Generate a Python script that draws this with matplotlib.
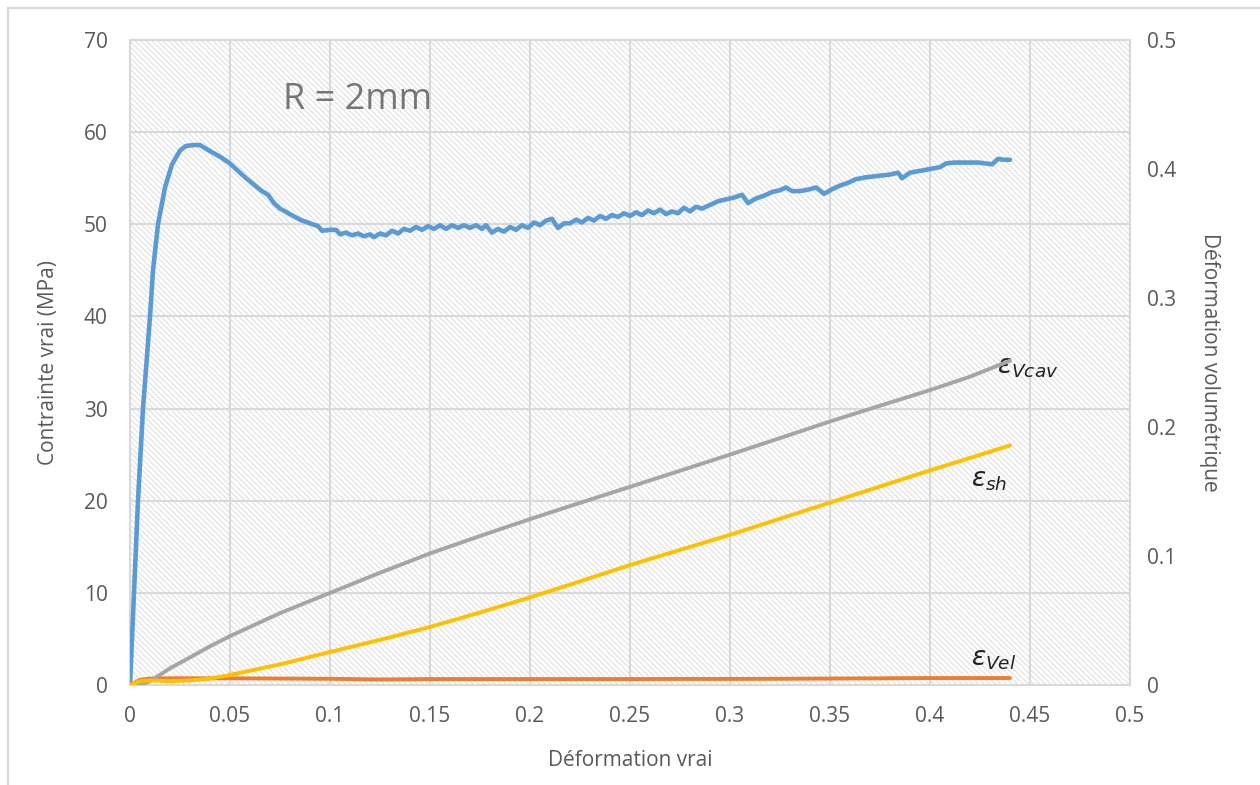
import matplotlib
matplotlib.use("Agg")
import matplotlib.pyplot as plt
from matplotlib.patches import Rectangle
from matplotlib.lines import Line2D

plt.rcParams['font.family'] = ['Open Sans', 'DejaVu Sans']
plt.rcParams['mathtext.fontset'] = 'dejavusans'
plt.rcParams['hatch.linewidth'] = 0.7
plt.rcParams['hatch.color'] = '#dcdcdc'

# True stress (MPa) vs true strain
strain_stress = [0, 0.002, 0.004, 0.0065, 0.010, 0.0115, 0.014, 0.0175, 0.021, 0.025,
                 0.028, 0.032, 0.035, 0.038, 0.042, 0.046, 0.050, 0.054, 0.058, 0.062,
                 0.066, 0.069, 0.072, 0.075, 0.080, 0.085, 0.090, 0.094, 0.096, 0.100,
                 0.103, 0.105, 0.108, 0.111, 0.114, 0.117, 0.120, 0.122, 0.125, 0.128,
                 0.131, 0.134, 0.137, 0.140, 0.143, 0.146, 0.149, 0.152, 0.155, 0.158,
                 0.161, 0.164, 0.167, 0.170, 0.173, 0.176, 0.178, 0.181, 0.184, 0.187,
                 0.190, 0.193, 0.196, 0.199, 0.202, 0.205, 0.208, 0.211, 0.214, 0.217,
                 0.220, 0.223, 0.226, 0.229, 0.232, 0.235, 0.238, 0.241, 0.244, 0.247,
                 0.250, 0.253, 0.256, 0.259, 0.262, 0.265, 0.268, 0.271, 0.274, 0.277,
                 0.280, 0.283, 0.286, 0.290, 0.294, 0.298, 0.302, 0.306, 0.309, 0.313,
                 0.317, 0.321, 0.325, 0.328, 0.331, 0.335, 0.340, 0.343, 0.347, 0.351,
                 0.355, 0.359, 0.363, 0.368, 0.372, 0.376, 0.380, 0.384, 0.386, 0.390,
                 0.395, 0.400, 0.405, 0.408, 0.412, 0.418, 0.424, 0.428, 0.431, 0.434,
                 0.437, 0.440]
stress = [0, 10, 20, 30, 40, 45, 50, 54, 56.5, 58.0,
          58.5, 58.6, 58.6, 58.2, 57.7, 57.2, 56.6, 55.8, 55.0, 54.3,
          53.6, 53.2, 52.3, 51.7, 51.1, 50.5, 50.1, 49.8, 49.3, 49.4,
          49.4, 48.9, 49.1, 48.8, 49.0, 48.7, 48.9, 48.6, 49.0, 48.8,
          49.3, 49.0, 49.5, 49.3, 49.7, 49.4, 49.8, 49.5, 49.9, 49.5,
          49.9, 49.6, 49.9, 49.6, 49.9, 49.5, 49.9, 49.1, 49.5, 49.2,
          49.7, 49.4, 49.9, 49.6, 50.2, 49.9, 50.4, 50.6, 49.6, 50.1,
          50.1, 50.5, 50.2, 50.7, 50.4, 50.9, 50.6, 51.0, 50.8, 51.2,
          50.9, 51.3, 51.0, 51.5, 51.2, 51.6, 51.1, 51.4, 51.2, 51.8,
          51.4, 51.9, 51.7, 52.1, 52.5, 52.7, 52.9, 53.2, 52.3, 52.8,
          53.1, 53.5, 53.7, 54.0, 53.6, 53.6, 53.8, 54.0, 53.3, 53.8,
          54.2, 54.5, 54.9, 55.1, 55.2, 55.3, 55.4, 55.6, 55.0, 55.6,
          55.8, 56.0, 56.2, 56.6, 56.7, 56.7, 56.7, 56.6, 56.5, 57.1,
          57.0, 57.0]

# Volumetric strain components vs true strain
strain_vol = [0, 0.005, 0.010, 0.020, 0.030, 0.040, 0.050, 0.075, 0.100, 0.125,
              0.150, 0.175, 0.200, 0.225, 0.250, 0.275, 0.300, 0.325, 0.350, 0.375,
              0.400, 0.420, 0.440]
eps_vcav = [0, 0.0, 0.003, 0.0129, 0.0214, 0.030, 0.0379, 0.0557, 0.0714, 0.0870,
            0.1020, 0.1155, 0.1286, 0.1412, 0.1536, 0.1661, 0.1786, 0.1914, 0.2043, 0.2165,
            0.2286, 0.2390, 0.2514]
eps_sh = [0, 0.003, 0.0035, 0.003, 0.0035, 0.005, 0.0078, 0.016, 0.0256, 0.0350,
          0.0450, 0.0562, 0.0679, 0.0803, 0.0930, 0.1047, 0.1164, 0.1289, 0.1414, 0.1539,
          0.1664, 0.1760, 0.1857]
eps_vel = [0, 0.004, 0.005, 0.0052, 0.0052, 0.0052, 0.0052, 0.0050, 0.0048, 0.0043,
           0.0046, 0.0046, 0.0046, 0.0046, 0.0046, 0.0047, 0.0047, 0.0048, 0.0050, 0.0052,
           0.0054, 0.0054, 0.0054]

x_ticks = [0, 0.05, 0.1, 0.15, 0.2, 0.25, 0.3, 0.35, 0.4, 0.45, 0.5]
x_tick_labels = ['0', '0.05', '0.1', '0.15', '0.2', '0.25', '0.3', '0.35', '0.4', '0.45', '0.5']
y_ticks = [0, 10, 20, 30, 40, 50, 60, 70]
y2_ticks = [0, 0.1, 0.2, 0.3, 0.4, 0.5]
y2_tick_labels = ['0', '0.1', '0.2', '0.3', '0.4', '0.5']

TXT = '#595959'
GRID = '#d9d9d9'

fig = plt.figure(figsize=(12.6, 7.85), dpi=100)
fig.patch.set_facecolor('white')

# outer chart frame
fig.add_artist(Line2D([8/1260, 8/1260], [0, 1 - 8/785], transform=fig.transFigure,
                      color=GRID, lw=1.6))
fig.add_artist(Line2D([8/1260, 1], [1 - 8/785, 1 - 8/785], transform=fig.transFigure,
                      color=GRID, lw=1.6))

ax = fig.add_axes([130/1260, 1 - 685/785, 1000/1260, 645/785])
ax.set_xlim(0, 0.5)
ax.set_ylim(0, 70)
ax.set_facecolor('white')
ax.add_patch(Rectangle((0, 0), 1, 1, transform=ax.transAxes, facecolor='white',
                       edgecolor='#dcdcdc', hatch='\\\\\\\\\\\\', lw=0, zorder=0))
ax.set_axisbelow(True)
ax.grid(True, color=GRID, lw=1.5, zorder=0.5)
for s in ax.spines.values():
    s.set_color(GRID)
    s.set_linewidth(1.5)

ax.set_xticks(x_ticks)
ax.set_xticklabels(x_tick_labels)
ax.set_yticks(y_ticks)
ax.tick_params(axis='both', length=0, labelsize=15, labelcolor=TXT)
ax.tick_params(axis='x', pad=15)
ax.tick_params(axis='y', pad=16)
ax.set_xlabel('Déformation vrai', fontsize=15, color=TXT, labelpad=17)
ax.set_ylabel('Contrainte vrai (MPa)', fontsize=15, color=TXT, labelpad=18)

ax.plot(strain_stress, stress, color='#5B9BD5', lw=3.3, solid_capstyle='round',
        solid_joinstyle='round', zorder=3)

ax.text(0.0765, 63.5, 'R = 2mm', fontsize=26, color='#767676', va='center', ha='left')

ax2 = ax.twinx()
ax2.set_ylim(0, 0.5)
ax2.set_yticks(y2_ticks)
ax2.set_yticklabels(y2_tick_labels)
ax2.tick_params(axis='y', length=0, labelsize=15, labelcolor=TXT, pad=12)
for s in ax2.spines.values():
    s.set_visible(False)
ax2.set_ylabel('Déformation volumétrique', fontsize=15, color=TXT, rotation=-90,
               labelpad=32)

ax2.plot(strain_vol, eps_vel, color='#ED7D31', lw=2.8, solid_capstyle='round', zorder=3)
ax2.plot(strain_vol, eps_vcav, color='#A5A5A5', lw=2.8, solid_capstyle='round', zorder=3)
ax2.plot(strain_vol, eps_sh, color='#FFC000', lw=2.8, solid_capstyle='round', zorder=3)

ax.text(0.4335, 34.5, r'$\varepsilon_{Vcav}$', fontsize=19, color='#222222',
        va='center', ha='left', zorder=5)
ax.text(0.4205, 22.2, r'$\varepsilon_{sh}$', fontsize=19, color='#222222',
        va='center', ha='left', zorder=5)
ax.text(0.4205, 2.8, r'$\varepsilon_{Vel}$', fontsize=19, color='#222222',
        va='center', ha='left', zorder=5)

fig.savefig('out.png', dpi=100, facecolor='white')
